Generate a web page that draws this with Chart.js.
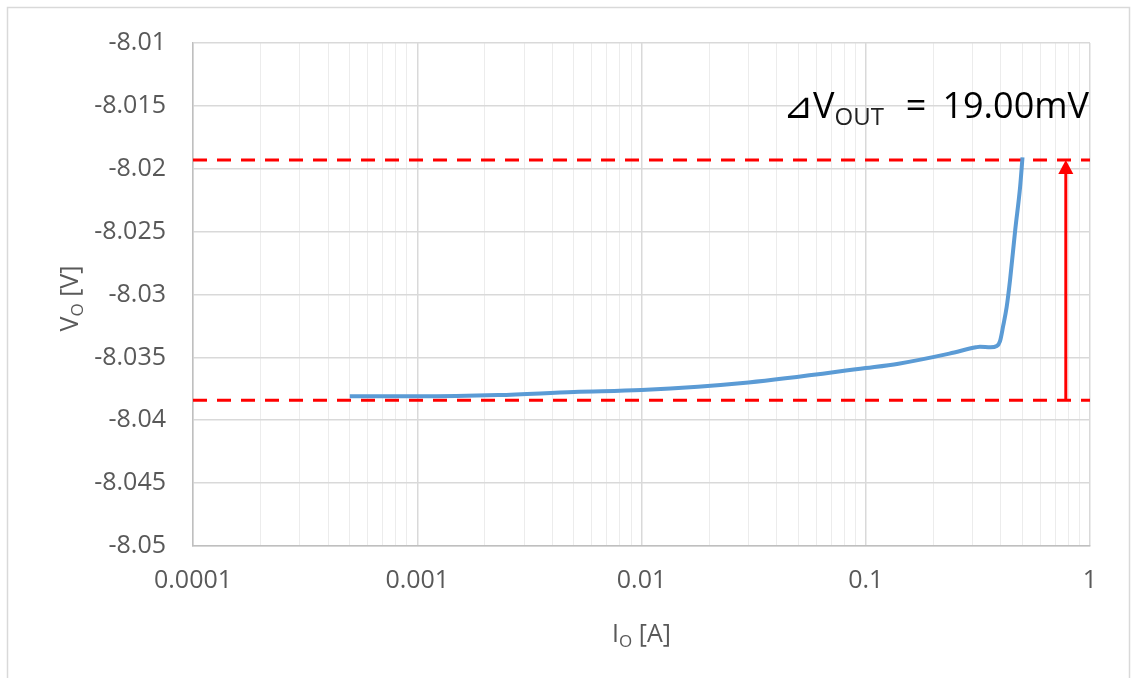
<!DOCTYPE html>
<html>
<head>
<meta charset="utf-8">
<script src="https://cdn.jsdelivr.net/npm/chart.js@4/dist/chart.umd.min.js"></script>
<style>
  html, body { margin: 0; padding: 0; background: #fff; }
  #wrap { position: relative; width: 1131px; height: 678px; }
  canvas { display: block; }
</style>
</head>
<body>
<div id="wrap"><canvas id="reg-chart" width="1131" height="678"></canvas></div>
<script>
'use strict';

// ── Data ──────────────────────────────────────────────────────────────────
const currentA = [0.0005, 0.001, 0.0023, 0.005, 0.01, 0.03, 0.1, 0.14, 0.236, 0.31, 0.323, 0.36, 0.384, 0.397, 0.41, 0.425, 0.44, 0.464, 0.488, 0.5];
const voltageV = [-8.0381, -8.0381, -8.0380, -8.03775, -8.0376, -8.0370, -8.03585, -8.0355, -8.0347, -8.0342, -8.03415, -8.0342, -8.0341, -8.0337, -8.0325, -8.0310, -8.02885, -8.02487, -8.02143, -8.0191];

const vHigh = -8.0193;       // upper dashed marker
const vLow = -8.0384;        // lower dashed marker
const arrowX = 0.78;         // current where the delta arrow sits
const deltaLabel = '19.00mV';

const xDecades = [0.0001, 0.001, 0.01, 0.1, 1];
const xTickLabels = ['0.0001', '0.001', '0.01', '0.1', '1'];
const yTicks = [-8.05, -8.045, -8.04, -8.035, -8.03, -8.025, -8.02, -8.015, -8.01];
const yTickLabels = ['-8.05', '-8.045', '-8.04', '-8.035', '-8.03', '-8.025', '-8.02', '-8.015', '-8.01'];

// minor log grid: 1..9 x each decade
const minorMult = [1, 2, 3, 4, 5, 6, 7, 8, 9];
const xGrid = [];
xDecades.slice(0, -1).forEach(d => minorMult.forEach(m => xGrid.push(Number((m * d).toPrecision(3)))));
xGrid.push(1);

const isDecade = v => xDecades.some(d => Math.abs(d - v) < d * 1e-6);
const FONT = '"Open Sans", "Noto Sans", sans-serif';
const GRAY = '#595959';

// ── Plugin: outer border, axis titles, annotation, arrowhead ─────────────
const decorPlugin = {
  id: 'decor',
  beforeDraw(chart) {
    const c = chart.ctx;
    c.save();
    c.fillStyle = '#fff';
    c.fillRect(0, 0, chart.width, chart.height);
    c.strokeStyle = '#d9d9d9';
    c.lineWidth = 1.5;
    c.strokeRect(7.5, 7.5, 1122, 700);
    c.restore();
  },
  afterDraw(chart) {
    const c = chart.ctx;
    const xs = chart.scales.x, ys = chart.scales.y;
    const area = chart.chartArea;
    c.save();

    // arrowhead at the upper marker
    const ax = xs.getPixelForValue(arrowX);
    const ay = ys.getPixelForValue(vHigh);
    c.fillStyle = '#ff0000';
    c.beginPath();
    c.moveTo(ax, ay);
    c.lineTo(ax - 7.5, ay + 14);
    c.lineTo(ax + 7.5, ay + 14);
    c.closePath();
    c.fill();

    const w = (font, s) => { c.font = font; return c.measureText(s).width; };
    const big = `25px ${FONT}`, sub = `17px ${FONT}`;

    // x axis title: I_O [A]
    c.fillStyle = GRAY;
    c.textBaseline = 'alphabetic';
    const wI = w(big, 'I'), wO = w(sub, 'O'), wA = w(big, ' [A]');
    const x0 = (area.left + area.right) / 2 - (wI + wO + wA) / 2;
    const by = 642;
    c.font = big; c.fillText('I', x0, by);
    c.font = sub; c.fillText('O', x0 + wI, by + 5);
    c.font = big; c.fillText(' [A]', x0 + wI + wO, by);

    // y axis title: V_O [V] (rotated)
    const wV = w(big, 'V'), wO2 = w(sub, 'O'), wB = w(big, ' [V]');
    c.save();
    c.translate(78, (area.top + area.bottom) / 2 + 4);
    c.rotate(-Math.PI / 2);
    const y0 = -(wV + wO2 + wB) / 2;
    c.font = big; c.fillText('V', y0, 0);
    c.font = sub; c.fillText('O', y0 + wV, 5);
    c.font = big; c.fillText(' [V]', y0 + wV + wO2, 0);
    c.restore();

    // annotation: ⊿V_OUT = 19.00mV
    c.fillStyle = '#000';
    const aBig = `36px ${FONT}`, aSub = `24px ${FONT}`;
    const ty = 118;
    c.font = aBig;
    c.textAlign = 'left';
    c.fillText('⊿V', 783, ty);
    const wDV = w(aBig, '⊿V');
    c.font = aSub; c.fillStyle = '#222';
    c.fillText('OUT', 783 + wDV, ty + 7);
    c.fillStyle = '#000';
    c.font = aBig;
    c.textAlign = 'center';
    c.fillText('=', 916, ty);
    c.textAlign = 'right';
    c.fillText(deltaLabel, area.right - 1, ty);

    c.restore();
  }
};

// ── Chart ─────────────────────────────────────────────────────────────────
const redDash = {
  borderColor: '#ff0000',
  borderWidth: 3,
  borderDash: [14, 10],
  pointRadius: 0,
  fill: false,
};

new Chart(document.getElementById('reg-chart'), {
  type: 'line',
  data: {
    datasets: [
      {
        label: 'Vo',
        data: currentA.map((x, i) => ({ x, y: voltageV[i] })),
        borderColor: '#5b9bd5',
        borderWidth: 4,
        pointRadius: 0,
        cubicInterpolationMode: 'monotone',
        fill: false,
        order: 1,
      },
      { ...redDash, label: 'high', data: [{ x: xDecades[0], y: vHigh }, { x: xDecades[4], y: vHigh }], order: 2 },
      { ...redDash, label: 'low', data: [{ x: xDecades[0], y: vLow }, { x: xDecades[4], y: vLow }], order: 2 },
      {
        label: 'delta',
        data: [{ x: arrowX, y: vLow }, { x: arrowX, y: vHigh - 0.0008 }],
        borderColor: '#ff0000',
        borderWidth: 3,
        pointRadius: 0,
        fill: false,
        order: 0,
      },
    ]
  },
  options: {
    responsive: false,
    animation: false,
    events: [],
    layout: { padding: { left: 0, top: 43, right: 41, bottom: 0 } },
    plugins: { legend: { display: false }, tooltip: { enabled: false } },
    scales: {
      x: {
        type: 'logarithmic',
        min: 0.0001,
        max: 1,
        afterBuildTicks: s => { s.ticks = xGrid.map(v => ({ value: v })); },
        afterFit: s => { s.height = 132; },
        ticks: {
          autoSkip: false,
          maxRotation: 0,
          padding: 20,
          color: GRAY,
          font: { family: FONT, size: 25 },
          callback: v => {
            const i = xDecades.findIndex(d => Math.abs(d - v) < d * 1e-6);
            return i >= 0 ? xTickLabels[i] : '';
          }
        },
        grid: {
          drawTicks: false,
          color: ctx => (ctx.tick && isDecade(ctx.tick.value)) ? '#d9d9d9' : '#ececec',
          lineWidth: ctx => (ctx.tick && isDecade(ctx.tick.value)) ? 1.5 : 1,
        },
        border: { color: '#bfbfbf', width: 1.5 },
      },
      y: {
        min: -8.05,
        max: -8.01,
        afterBuildTicks: s => { s.ticks = yTicks.map(v => ({ value: v })); },
        afterFit: s => { s.width = 193; },
        ticks: {
          padding: 27,
          color: GRAY,
          font: { family: FONT, size: 25 },
          callback: v => {
            const i = yTicks.findIndex(t => Math.abs(t - v) < 1e-7);
            return i >= 0 ? yTickLabels[i] : '';
          }
        },
        grid: { drawTicks: false, color: '#d9d9d9', lineWidth: 1.5 },
        border: { color: '#bfbfbf', width: 1.5 },
      }
    }
  },
  plugins: [decorPlugin]
});
</script>
</body>
</html>
